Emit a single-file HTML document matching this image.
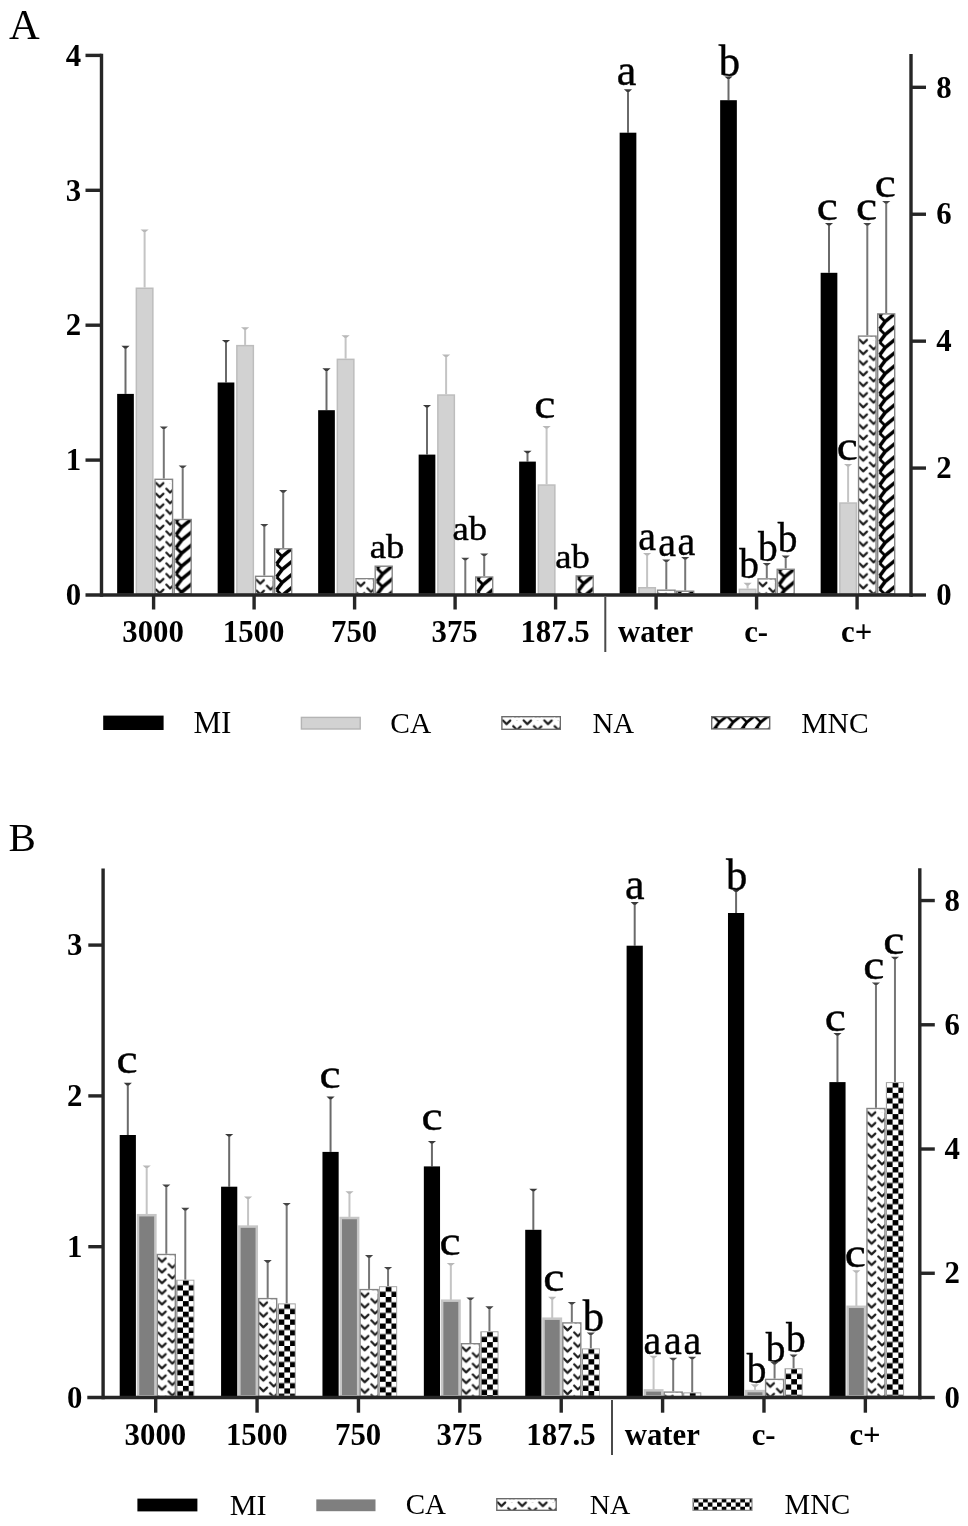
<!DOCTYPE html>
<html lang="en"><head><meta charset="utf-8"><title>Figure</title>
<style>
html,body{margin:0;padding:0;background:#fff;}
body{width:968px;height:1526px;overflow:hidden;}
svg{display:block;filter:blur(0.6px);}
</style></head><body>
<svg width="968" height="1526" viewBox="0 0 968 1526" font-family="'Liberation Serif','Times New Roman',serif" fill="#000">
<defs>
<pattern id="na" width="20.7" height="10.65" patternUnits="userSpaceOnUse">
<rect width="20.7" height="10.65" fill="#fff"/>
<g fill="none" stroke="#1c1c1c" stroke-width="2.2" stroke-linecap="round" stroke-linejoin="round">
<path d="M1.7 4.3l3.7 3.8l3.7 -3.6"/>
<path d="M12.05 -0.45l3.7 3.8l3.7 -3.6"/>
<path d="M12.05 10.2l3.7 3.8l3.7 -3.6"/>
</g>
</pattern>
<pattern id="mncA" width="40" height="13" patternUnits="userSpaceOnUse">
<rect width="40" height="13" fill="#fff"/>
<g fill="none" stroke="#000" stroke-linejoin="round">
<path d="M19.0 -13.5L8.2 -4.6L2.6 2.9M19.0 -0.5L8.2 8.4L2.6 15.9M19.0 12.5L8.2 21.4L2.6 28.9" stroke-width="3.5"/>
<path d="M2.6 -10.1L7.8 -5.0M2.6 2.9L7.8 8.0M2.6 15.9L7.8 21.0M2.6 28.9L7.8 34.0" stroke-width="2.8"/>
</g>
</pattern>
<pattern id="mncAl" width="13" height="13" patternUnits="userSpaceOnUse" patternTransform="translate(0.6 0.2) scale(1.06)">
<rect width="13" height="13" fill="#fff"/>
<g fill="none" stroke="#000" stroke-linejoin="round">
<path d="M5.1 -16.2L-5.7 -7.3L-11.3 0.2M5.1 -3.2L-5.7 5.7L-11.3 13.2M5.1 9.8L-5.7 18.7L-11.3 26.2M18.1 -16.2L7.3 -7.3L1.7 0.2M18.1 -3.2L7.3 5.7L1.7 13.2M18.1 9.8L7.3 18.7L1.7 26.2M31.1 -16.2L20.3 -7.3L14.7 0.2M31.1 -3.2L20.3 5.7L14.7 13.2M31.1 9.8L20.3 18.7L14.7 26.2" stroke-width="2.7"/>
<path d="M-11.3 -12.8L-6.1 -7.7M-11.3 0.2L-6.1 5.3M-11.3 13.2L-6.1 18.3M-11.3 26.2L-6.1 31.3M1.7 -12.8L6.9 -7.7M1.7 0.2L6.9 5.3M1.7 13.2L6.9 18.3M1.7 26.2L6.9 31.3M14.7 -12.8L19.9 -7.7M14.7 0.2L19.9 5.3M14.7 13.2L19.9 18.3M14.7 26.2L19.9 31.3" stroke-width="2.2"/>
</g>
</pattern>
<pattern id="mncB" width="11.5" height="10.6" patternUnits="userSpaceOnUse" patternTransform="translate(1.0 0.2)">
<rect width="11.5" height="10.6" fill="#fff"/>
<rect x="5.75" y="0" width="5.75" height="5.3" fill="#000"/>
<rect x="0" y="5.3" width="5.75" height="5.3" fill="#000"/>
</pattern>
<pattern id="mncBl" width="9.3" height="8.7" patternUnits="userSpaceOnUse" patternTransform="translate(1.5 0)">
<rect width="9.3" height="8.7" fill="#fff"/>
<rect x="0" y="0" width="4.65" height="4.35" fill="#000"/>
<rect x="4.65" y="4.35" width="4.65" height="4.35" fill="#000"/>
</pattern>
</defs>
<rect width="968" height="1526" fill="#fff"/>
<path d="M125.50 346.40V393.90" stroke="#6a6a6a" stroke-width="2.0" fill="none"/>
<path d="M121.40 345.80h8.2l-3.00 2.6h-2.2z" fill="#3a3a3a"/>
<rect x="117.15" y="393.90" width="16.70" height="199.90" fill="#000"/>
<path d="M144.60 230.00V287.50" stroke="#c4c4c4" stroke-width="2.0" fill="none"/>
<path d="M140.50 229.40h8.2l-3.00 2.6h-2.2z" fill="#b8b8b8"/>
<rect x="136.35" y="288.25" width="16.50" height="305.55" fill="#d2d2d2" stroke="#bdbdbd" stroke-width="1.5"/>
<path d="M163.80 427.00V478.60" stroke="#767676" stroke-width="2.0" fill="none"/>
<path d="M159.70 426.40h8.2l-3.00 2.6h-2.2z" fill="#454545"/>
<g transform="translate(154.35 478.60)"><rect x="0.7" y="0.7" width="17.50" height="114.50" fill="url(#na)" stroke="#858585" stroke-width="1.4"/><rect x="10.5" y="1.4" width="7.00" height="3.60" fill="#fff"/></g>
<path d="M182.70 466.00V518.80" stroke="#767676" stroke-width="2.0" fill="none"/>
<path d="M178.60 465.40h8.2l-3.00 2.6h-2.2z" fill="#454545"/>
<g transform="translate(173.50 518.80)"><rect x="0.7" y="0.7" width="17.00" height="74.30" fill="url(#mncA)" stroke="#858585" stroke-width="1.4"/></g>
<path d="M226.00 340.60V382.50" stroke="#6a6a6a" stroke-width="2.0" fill="none"/>
<path d="M221.90 340.00h8.2l-3.00 2.6h-2.2z" fill="#3a3a3a"/>
<rect x="217.65" y="382.50" width="16.70" height="211.30" fill="#000"/>
<path d="M245.10 327.80V344.90" stroke="#c4c4c4" stroke-width="2.0" fill="none"/>
<path d="M241.00 327.20h8.2l-3.00 2.6h-2.2z" fill="#b8b8b8"/>
<rect x="236.85" y="345.65" width="16.50" height="248.15" fill="#d2d2d2" stroke="#bdbdbd" stroke-width="1.5"/>
<path d="M264.30 524.60V575.60" stroke="#767676" stroke-width="2.0" fill="none"/>
<path d="M260.20 524.00h8.2l-3.00 2.6h-2.2z" fill="#454545"/>
<g transform="translate(254.85 575.60)"><rect x="0.7" y="0.7" width="17.50" height="17.50" fill="url(#na)" stroke="#858585" stroke-width="1.4"/><rect x="10.5" y="1.4" width="7.00" height="3.60" fill="#fff"/></g>
<path d="M283.20 490.70V548.10" stroke="#767676" stroke-width="2.0" fill="none"/>
<path d="M279.10 490.10h8.2l-3.00 2.6h-2.2z" fill="#454545"/>
<g transform="translate(274.00 548.10)"><rect x="0.7" y="0.7" width="17.00" height="45.00" fill="url(#mncA)" stroke="#858585" stroke-width="1.4"/></g>
<path d="M326.50 368.90V410.20" stroke="#6a6a6a" stroke-width="2.0" fill="none"/>
<path d="M322.40 368.30h8.2l-3.00 2.6h-2.2z" fill="#3a3a3a"/>
<rect x="318.15" y="410.20" width="16.70" height="183.60" fill="#000"/>
<path d="M345.60 335.80V358.60" stroke="#c4c4c4" stroke-width="2.0" fill="none"/>
<path d="M341.50 335.20h8.2l-3.00 2.6h-2.2z" fill="#b8b8b8"/>
<rect x="337.35" y="359.35" width="16.50" height="234.45" fill="#d2d2d2" stroke="#bdbdbd" stroke-width="1.5"/>
<g transform="translate(355.35 578.00)"><rect x="0.7" y="0.7" width="17.50" height="15.10" fill="url(#na)" stroke="#858585" stroke-width="1.4"/><rect x="10.5" y="1.4" width="7.00" height="3.60" fill="#fff"/></g>
<g transform="translate(374.50 565.50)"><rect x="0.7" y="0.7" width="17.00" height="27.60" fill="url(#mncA)" stroke="#858585" stroke-width="1.4"/></g>
<path d="M427.00 405.50V454.60" stroke="#6a6a6a" stroke-width="2.0" fill="none"/>
<path d="M422.90 404.90h8.2l-3.00 2.6h-2.2z" fill="#3a3a3a"/>
<rect x="418.65" y="454.60" width="16.70" height="139.20" fill="#000"/>
<path d="M446.10 355.00V394.30" stroke="#c4c4c4" stroke-width="2.0" fill="none"/>
<path d="M442.00 354.40h8.2l-3.00 2.6h-2.2z" fill="#b8b8b8"/>
<rect x="437.85" y="395.05" width="16.50" height="198.75" fill="#d2d2d2" stroke="#bdbdbd" stroke-width="1.5"/>
<path d="M465.30 558.30V595.00" stroke="#767676" stroke-width="2.0" fill="none"/>
<path d="M461.20 557.70h8.2l-3.00 2.6h-2.2z" fill="#454545"/>
<path d="M484.20 554.10V576.30" stroke="#767676" stroke-width="2.0" fill="none"/>
<path d="M480.10 553.50h8.2l-3.00 2.6h-2.2z" fill="#454545"/>
<g transform="translate(475.00 576.30)"><rect x="0.7" y="0.7" width="17.00" height="16.80" fill="url(#mncA)" stroke="#858585" stroke-width="1.4"/></g>
<path d="M527.50 451.30V461.60" stroke="#6a6a6a" stroke-width="2.0" fill="none"/>
<path d="M523.40 450.70h8.2l-3.00 2.6h-2.2z" fill="#3a3a3a"/>
<rect x="519.15" y="461.60" width="16.70" height="132.20" fill="#000"/>
<path d="M546.60 426.50V484.30" stroke="#c4c4c4" stroke-width="2.0" fill="none"/>
<path d="M542.50 425.90h8.2l-3.00 2.6h-2.2z" fill="#b8b8b8"/>
<rect x="538.35" y="485.05" width="16.50" height="108.75" fill="#d2d2d2" stroke="#bdbdbd" stroke-width="1.5"/>
<g transform="translate(575.50 575.20)"><rect x="0.7" y="0.7" width="17.00" height="17.90" fill="url(#mncA)" stroke="#858585" stroke-width="1.4"/></g>
<path d="M628.00 89.90V132.70" stroke="#6a6a6a" stroke-width="2.0" fill="none"/>
<path d="M623.90 89.30h8.2l-3.00 2.6h-2.2z" fill="#3a3a3a"/>
<rect x="619.65" y="132.70" width="16.70" height="461.10" fill="#000"/>
<path d="M647.10 553.50V587.00" stroke="#c4c4c4" stroke-width="2.0" fill="none"/>
<path d="M643.00 552.90h8.2l-3.00 2.6h-2.2z" fill="#b8b8b8"/>
<rect x="638.85" y="587.75" width="16.50" height="6.05" fill="#d2d2d2" stroke="#bdbdbd" stroke-width="1.5"/>
<path d="M666.30 560.00V589.50" stroke="#767676" stroke-width="2.0" fill="none"/>
<path d="M662.20 559.40h8.2l-3.00 2.6h-2.2z" fill="#454545"/>
<g transform="translate(656.85 589.50)"><rect x="0.7" y="0.7" width="17.50" height="3.60" fill="url(#na)" stroke="#858585" stroke-width="1.4"/><rect x="10.5" y="1.4" width="7.00" height="2.90" fill="#fff"/></g>
<path d="M685.20 557.50V590.50" stroke="#767676" stroke-width="2.0" fill="none"/>
<path d="M681.10 556.90h8.2l-3.00 2.6h-2.2z" fill="#454545"/>
<g transform="translate(676.00 590.50)"><rect x="0.7" y="0.7" width="17.00" height="2.60" fill="url(#mncA)" stroke="#858585" stroke-width="1.4"/></g>
<path d="M728.50 77.00V100.20" stroke="#6a6a6a" stroke-width="2.0" fill="none"/>
<path d="M724.40 76.40h8.2l-3.00 2.6h-2.2z" fill="#3a3a3a"/>
<rect x="720.15" y="100.20" width="16.70" height="493.60" fill="#000"/>
<path d="M747.60 583.40V588.60" stroke="#c4c4c4" stroke-width="2.0" fill="none"/>
<path d="M743.50 582.80h8.2l-3.00 2.6h-2.2z" fill="#b8b8b8"/>
<rect x="739.35" y="589.35" width="16.50" height="4.45" fill="#d2d2d2" stroke="#bdbdbd" stroke-width="1.5"/>
<path d="M766.80 563.60V578.20" stroke="#767676" stroke-width="2.0" fill="none"/>
<path d="M762.70 563.00h8.2l-3.00 2.6h-2.2z" fill="#454545"/>
<g transform="translate(757.35 578.20)"><rect x="0.7" y="0.7" width="17.50" height="14.90" fill="url(#na)" stroke="#858585" stroke-width="1.4"/><rect x="10.5" y="1.4" width="7.00" height="3.60" fill="#fff"/></g>
<path d="M785.70 556.10V568.60" stroke="#767676" stroke-width="2.0" fill="none"/>
<path d="M781.60 555.50h8.2l-3.00 2.6h-2.2z" fill="#454545"/>
<g transform="translate(776.50 568.60)"><rect x="0.7" y="0.7" width="17.00" height="24.50" fill="url(#mncA)" stroke="#858585" stroke-width="1.4"/></g>
<path d="M829.00 223.60V272.80" stroke="#6a6a6a" stroke-width="2.0" fill="none"/>
<path d="M824.90 223.00h8.2l-3.00 2.6h-2.2z" fill="#3a3a3a"/>
<rect x="820.65" y="272.80" width="16.70" height="321.00" fill="#000"/>
<path d="M848.10 464.50V502.30" stroke="#c4c4c4" stroke-width="2.0" fill="none"/>
<path d="M844.00 463.90h8.2l-3.00 2.6h-2.2z" fill="#b8b8b8"/>
<rect x="839.85" y="503.05" width="16.50" height="90.75" fill="#d2d2d2" stroke="#bdbdbd" stroke-width="1.5"/>
<path d="M867.30 223.60V335.40" stroke="#767676" stroke-width="2.0" fill="none"/>
<path d="M863.20 223.00h8.2l-3.00 2.6h-2.2z" fill="#454545"/>
<g transform="translate(857.85 335.40)"><rect x="0.7" y="0.7" width="17.50" height="257.70" fill="url(#na)" stroke="#858585" stroke-width="1.4"/><rect x="10.5" y="1.4" width="7.00" height="3.60" fill="#fff"/></g>
<path d="M886.20 201.50V313.20" stroke="#767676" stroke-width="2.0" fill="none"/>
<path d="M882.10 200.90h8.2l-3.00 2.6h-2.2z" fill="#454545"/>
<g transform="translate(877.00 313.20)"><rect x="0.7" y="0.7" width="17.00" height="279.90" fill="url(#mncA)" stroke="#858585" stroke-width="1.4"/></g>
<g stroke="#262626" stroke-width="3.4" fill="none" stroke-linecap="butt">
<path d="M101.5 53.7V596.7"/>
<path d="M85.5 595.0H912.7"/>
<path d="M911.0 54V596.7"/>
<path d="M85.5 460.10H101.5"/>
<path d="M85.5 325.20H101.5"/>
<path d="M85.5 190.30H101.5"/>
<path d="M85.5 55.40H101.5"/>
<path d="M911.0 595.00H926"/>
<path d="M911.0 468.08H926"/>
<path d="M911.0 341.16H926"/>
<path d="M911.0 214.24H926"/>
<path d="M911.0 87.32H926"/>
<path d="M153.60 595.0V609.5"/>
<path d="M254.10 595.0V609.5"/>
<path d="M354.60 595.0V609.5"/>
<path d="M455.10 595.0V609.5"/>
<path d="M555.60 595.0V609.5"/>
<path d="M656.10 595.0V609.5"/>
<path d="M756.60 595.0V609.5"/>
<path d="M857.10 595.0V609.5"/>
</g>
<path d="M605.3 597V652" stroke="#4a4a4a" stroke-width="2" fill="none"/>
<text x="81.20" y="605.20" font-size="30.80" text-anchor="end" font-weight="bold">0</text>
<text x="81.20" y="470.30" font-size="30.80" text-anchor="end" font-weight="bold">1</text>
<text x="81.20" y="335.40" font-size="30.80" text-anchor="end" font-weight="bold">2</text>
<text x="81.20" y="200.50" font-size="30.80" text-anchor="end" font-weight="bold">3</text>
<text x="81.20" y="65.60" font-size="30.80" text-anchor="end" font-weight="bold">4</text>
<text x="936.30" y="605.20" font-size="30.80" text-anchor="start" font-weight="bold">0</text>
<text x="936.30" y="478.28" font-size="30.80" text-anchor="start" font-weight="bold">2</text>
<text x="936.30" y="351.36" font-size="30.80" text-anchor="start" font-weight="bold">4</text>
<text x="936.30" y="224.44" font-size="30.80" text-anchor="start" font-weight="bold">6</text>
<text x="936.30" y="97.52" font-size="30.80" text-anchor="start" font-weight="bold">8</text>
<text x="153.10" y="642.30" font-size="30.80" text-anchor="middle" font-weight="bold">3000</text>
<text x="253.60" y="642.30" font-size="30.80" text-anchor="middle" font-weight="bold">1500</text>
<text x="354.10" y="642.30" font-size="30.80" text-anchor="middle" font-weight="bold">750</text>
<text x="454.60" y="642.30" font-size="30.80" text-anchor="middle" font-weight="bold">375</text>
<text x="555.10" y="642.30" font-size="30.80" text-anchor="middle" font-weight="bold">187.5</text>
<text x="655.60" y="642.30" font-size="30.80" text-anchor="middle" font-weight="bold">water</text>
<text x="756.10" y="642.30" font-size="30.80" text-anchor="middle" font-weight="bold">c-</text>
<text x="856.60" y="642.30" font-size="30.80" text-anchor="middle" font-weight="bold">c+</text>
<text x="8.94" y="39.38" font-size="42.50">A</text>
<text transform="translate(534.32 418.11) scale(1.130 1)" font-size="42.00" stroke="#000" stroke-width="0.4">c</text>
<text transform="translate(369.69 557.50) scale(1.110 1)" font-size="33.00" stroke="#000" stroke-width="0.4">ab</text>
<text transform="translate(452.44 539.85) scale(1.110 1)" font-size="33.00" stroke="#000" stroke-width="0.4">ab</text>
<text transform="translate(555.19 567.65) scale(1.110 1)" font-size="33.00" stroke="#000" stroke-width="0.4">ab</text>
<text transform="translate(616.66 85.39) scale(0.990 1)" font-size="44.50" stroke="#000" stroke-width="0.4">a</text>
<text transform="translate(718.78 75.77) scale(0.970 1)" font-size="44.00" stroke="#000" stroke-width="0.4">b</text>
<text transform="translate(638.16 550.48) scale(0.970 1)" font-size="41.20" stroke="#000" stroke-width="0.4">a</text>
<text transform="translate(658.26 555.73) scale(0.970 1)" font-size="41.20" stroke="#000" stroke-width="0.4">a</text>
<text transform="translate(677.46 555.43) scale(0.970 1)" font-size="41.20" stroke="#000" stroke-width="0.4">a</text>
<text transform="translate(739.18 578.31) scale(0.950 1)" font-size="41.50" stroke="#000" stroke-width="0.4">b</text>
<text transform="translate(757.93 560.81) scale(0.950 1)" font-size="41.50" stroke="#000" stroke-width="0.4">b</text>
<text transform="translate(777.83 552.16) scale(0.950 1)" font-size="41.50" stroke="#000" stroke-width="0.4">b</text>
<text transform="translate(816.87 220.26) scale(1.130 1)" font-size="42.00" stroke="#000" stroke-width="0.4">c</text>
<text transform="translate(855.97 220.26) scale(1.130 1)" font-size="42.00" stroke="#000" stroke-width="0.4">c</text>
<text transform="translate(874.77 197.11) scale(1.130 1)" font-size="42.00" stroke="#000" stroke-width="0.4">c</text>
<text transform="translate(836.72 460.46) scale(1.130 1)" font-size="42.00" stroke="#000" stroke-width="0.4">c</text>
<rect x="103.2" y="715.6" width="60.4" height="14.4" fill="#000"/>
<rect x="301.4" y="717.4" width="58.8" height="11.6" fill="#d2d2d2" stroke="#b4b4b4" stroke-width="1.4"/>
<g transform="translate(501.2 716)"><rect x="0.7" y="0.7" width="58.4" height="12.6" fill="url(#na)" stroke="#6a6a6a" stroke-width="1.4"/><rect x="11.3" y="1.4" width="9.0" height="3.2" fill="#fff"/><rect x="32.0" y="1.4" width="9.0" height="3.2" fill="#fff"/><rect x="52.7" y="1.4" width="5.9" height="3.2" fill="#fff"/></g>
<g transform="translate(711 716)"><rect x="0.7" y="0.7" width="58" height="12.2" fill="url(#mncAl)" stroke="#6a6a6a" stroke-width="1.4"/></g>
<text x="193.38" y="733.35" font-size="31.14">MI</text>
<text x="390.34" y="732.86" font-size="29.47">CA</text>
<text x="592.41" y="732.82" font-size="28.86">NA</text>
<text x="801.35" y="733.13" font-size="29.52">MNC</text>
<path d="M127.80 1083.40V1135.00" stroke="#6a6a6a" stroke-width="2.0" fill="none"/>
<path d="M123.70 1082.80h8.2l-3.00 2.6h-2.2z" fill="#3a3a3a"/>
<rect x="119.70" y="1135.00" width="16.20" height="261.30" fill="#000"/>
<path d="M146.70 1166.00V1215.20" stroke="#c4c4c4" stroke-width="2.0" fill="none"/>
<path d="M142.60 1165.40h8.2l-3.00 2.6h-2.2z" fill="#b8b8b8"/>
<rect x="138.00" y="1215.20" width="17.40" height="181.10" fill="#7f7f7f" stroke="#c6c6c6" stroke-width="2.5"/>
<path d="M166.30 1185.00V1253.80" stroke="#767676" stroke-width="2.0" fill="none"/>
<path d="M162.20 1184.40h8.2l-3.00 2.6h-2.2z" fill="#454545"/>
<g transform="translate(156.60 1253.80)"><rect x="0.7" y="0.7" width="18.00" height="141.80" fill="url(#na)" stroke="#858585" stroke-width="1.4"/><rect x="10.5" y="1.4" width="7.50" height="3.60" fill="#fff"/></g>
<path d="M185.30 1208.40V1279.70" stroke="#767676" stroke-width="2.0" fill="none"/>
<path d="M181.20 1207.80h8.2l-3.00 2.6h-2.2z" fill="#454545"/>
<g transform="translate(176.20 1279.70)"><rect x="0.5" y="0.5" width="17.20" height="116.10" fill="url(#mncB)" stroke="#a8a8a8" stroke-width="1.0"/></g>
<path d="M229.18 1134.60V1186.70" stroke="#6a6a6a" stroke-width="2.0" fill="none"/>
<path d="M225.08 1134.00h8.2l-3.00 2.6h-2.2z" fill="#3a3a3a"/>
<rect x="221.08" y="1186.70" width="16.20" height="209.60" fill="#000"/>
<path d="M248.08 1197.00V1226.60" stroke="#c4c4c4" stroke-width="2.0" fill="none"/>
<path d="M243.98 1196.40h8.2l-3.00 2.6h-2.2z" fill="#b8b8b8"/>
<rect x="239.38" y="1226.60" width="17.40" height="169.70" fill="#7f7f7f" stroke="#c6c6c6" stroke-width="2.5"/>
<path d="M267.68 1260.70V1297.90" stroke="#767676" stroke-width="2.0" fill="none"/>
<path d="M263.58 1260.10h8.2l-3.00 2.6h-2.2z" fill="#454545"/>
<g transform="translate(257.98 1297.90)"><rect x="0.7" y="0.7" width="18.00" height="97.70" fill="url(#na)" stroke="#858585" stroke-width="1.4"/><rect x="10.5" y="1.4" width="7.50" height="3.60" fill="#fff"/></g>
<path d="M286.68 1203.60V1303.40" stroke="#767676" stroke-width="2.0" fill="none"/>
<path d="M282.58 1203.00h8.2l-3.00 2.6h-2.2z" fill="#454545"/>
<g transform="translate(277.58 1303.40)"><rect x="0.5" y="0.5" width="17.20" height="92.40" fill="url(#mncB)" stroke="#a8a8a8" stroke-width="1.0"/></g>
<path d="M330.56 1097.20V1151.90" stroke="#6a6a6a" stroke-width="2.0" fill="none"/>
<path d="M326.46 1096.60h8.2l-3.00 2.6h-2.2z" fill="#3a3a3a"/>
<rect x="322.46" y="1151.90" width="16.20" height="244.40" fill="#000"/>
<path d="M349.46 1191.80V1218.00" stroke="#c4c4c4" stroke-width="2.0" fill="none"/>
<path d="M345.36 1191.20h8.2l-3.00 2.6h-2.2z" fill="#b8b8b8"/>
<rect x="340.76" y="1218.00" width="17.40" height="178.30" fill="#7f7f7f" stroke="#c6c6c6" stroke-width="2.5"/>
<path d="M369.06 1255.70V1288.90" stroke="#767676" stroke-width="2.0" fill="none"/>
<path d="M364.96 1255.10h8.2l-3.00 2.6h-2.2z" fill="#454545"/>
<g transform="translate(359.36 1288.90)"><rect x="0.7" y="0.7" width="18.00" height="106.70" fill="url(#na)" stroke="#858585" stroke-width="1.4"/><rect x="10.5" y="1.4" width="7.50" height="3.60" fill="#fff"/></g>
<path d="M388.06 1267.60V1286.20" stroke="#767676" stroke-width="2.0" fill="none"/>
<path d="M383.96 1267.00h8.2l-3.00 2.6h-2.2z" fill="#454545"/>
<g transform="translate(378.96 1286.20)"><rect x="0.5" y="0.5" width="17.20" height="109.60" fill="url(#mncB)" stroke="#a8a8a8" stroke-width="1.0"/></g>
<path d="M431.94 1141.60V1166.40" stroke="#6a6a6a" stroke-width="2.0" fill="none"/>
<path d="M427.84 1141.00h8.2l-3.00 2.6h-2.2z" fill="#3a3a3a"/>
<rect x="423.84" y="1166.40" width="16.20" height="229.90" fill="#000"/>
<path d="M450.84 1263.50V1300.70" stroke="#c4c4c4" stroke-width="2.0" fill="none"/>
<path d="M446.74 1262.90h8.2l-3.00 2.6h-2.2z" fill="#b8b8b8"/>
<rect x="442.14" y="1300.70" width="17.40" height="95.60" fill="#7f7f7f" stroke="#c6c6c6" stroke-width="2.5"/>
<path d="M470.44 1298.00V1343.00" stroke="#767676" stroke-width="2.0" fill="none"/>
<path d="M466.34 1297.40h8.2l-3.00 2.6h-2.2z" fill="#454545"/>
<g transform="translate(460.74 1343.00)"><rect x="0.7" y="0.7" width="18.00" height="52.60" fill="url(#na)" stroke="#858585" stroke-width="1.4"/><rect x="10.5" y="1.4" width="7.50" height="3.60" fill="#fff"/></g>
<path d="M489.44 1306.90V1331.30" stroke="#767676" stroke-width="2.0" fill="none"/>
<path d="M485.34 1306.30h8.2l-3.00 2.6h-2.2z" fill="#454545"/>
<g transform="translate(480.34 1331.30)"><rect x="0.5" y="0.5" width="17.20" height="64.50" fill="url(#mncB)" stroke="#a8a8a8" stroke-width="1.0"/></g>
<path d="M533.32 1189.30V1229.80" stroke="#6a6a6a" stroke-width="2.0" fill="none"/>
<path d="M529.22 1188.70h8.2l-3.00 2.6h-2.2z" fill="#3a3a3a"/>
<rect x="525.22" y="1229.80" width="16.20" height="166.50" fill="#000"/>
<path d="M552.22 1297.40V1318.70" stroke="#c4c4c4" stroke-width="2.0" fill="none"/>
<path d="M548.12 1296.80h8.2l-3.00 2.6h-2.2z" fill="#b8b8b8"/>
<rect x="543.52" y="1318.70" width="17.40" height="77.60" fill="#7f7f7f" stroke="#c6c6c6" stroke-width="2.5"/>
<path d="M571.82 1302.60V1322.20" stroke="#767676" stroke-width="2.0" fill="none"/>
<path d="M567.72 1302.00h8.2l-3.00 2.6h-2.2z" fill="#454545"/>
<g transform="translate(562.12 1322.20)"><rect x="0.7" y="0.7" width="18.00" height="73.40" fill="url(#na)" stroke="#858585" stroke-width="1.4"/><rect x="10.5" y="1.4" width="7.50" height="3.60" fill="#fff"/></g>
<path d="M590.82 1333.00V1348.40" stroke="#767676" stroke-width="2.0" fill="none"/>
<path d="M586.72 1332.40h8.2l-3.00 2.6h-2.2z" fill="#454545"/>
<g transform="translate(581.72 1348.40)"><rect x="0.5" y="0.5" width="17.20" height="47.40" fill="url(#mncB)" stroke="#a8a8a8" stroke-width="1.0"/></g>
<path d="M634.70 902.70V945.70" stroke="#6a6a6a" stroke-width="2.0" fill="none"/>
<path d="M630.60 902.10h8.2l-3.00 2.6h-2.2z" fill="#3a3a3a"/>
<rect x="626.60" y="945.70" width="16.20" height="450.60" fill="#000"/>
<path d="M653.60 1356.30V1390.40" stroke="#c4c4c4" stroke-width="2.0" fill="none"/>
<path d="M649.50 1355.70h8.2l-3.00 2.6h-2.2z" fill="#b8b8b8"/>
<rect x="644.90" y="1390.40" width="17.40" height="5.90" fill="#7f7f7f" stroke="#c6c6c6" stroke-width="2.5"/>
<path d="M673.20 1358.30V1391.40" stroke="#767676" stroke-width="2.0" fill="none"/>
<path d="M669.10 1357.70h8.2l-3.00 2.6h-2.2z" fill="#454545"/>
<g transform="translate(663.50 1391.40)"><rect x="0.7" y="0.7" width="18.00" height="4.20" fill="url(#na)" stroke="#858585" stroke-width="1.4"/><rect x="10.5" y="1.4" width="7.50" height="3.50" fill="#fff"/></g>
<path d="M692.20 1357.30V1392.40" stroke="#767676" stroke-width="2.0" fill="none"/>
<path d="M688.10 1356.70h8.2l-3.00 2.6h-2.2z" fill="#454545"/>
<g transform="translate(683.10 1392.40)"><rect x="0.5" y="0.5" width="17.20" height="3.40" fill="url(#mncB)" stroke="#a8a8a8" stroke-width="1.0"/></g>
<path d="M736.08 890.00V913.00" stroke="#6a6a6a" stroke-width="2.0" fill="none"/>
<path d="M731.98 889.40h8.2l-3.00 2.6h-2.2z" fill="#3a3a3a"/>
<rect x="727.98" y="913.00" width="16.20" height="483.30" fill="#000"/>
<path d="M754.98 1384.90V1391.10" stroke="#c4c4c4" stroke-width="2.0" fill="none"/>
<path d="M750.88 1384.30h8.2l-3.00 2.6h-2.2z" fill="#b8b8b8"/>
<rect x="746.28" y="1391.10" width="17.40" height="5.20" fill="#7f7f7f" stroke="#c6c6c6" stroke-width="2.5"/>
<path d="M774.58 1362.60V1378.70" stroke="#767676" stroke-width="2.0" fill="none"/>
<path d="M770.48 1362.00h8.2l-3.00 2.6h-2.2z" fill="#454545"/>
<g transform="translate(764.88 1378.70)"><rect x="0.7" y="0.7" width="18.00" height="16.90" fill="url(#na)" stroke="#858585" stroke-width="1.4"/><rect x="10.5" y="1.4" width="7.50" height="3.60" fill="#fff"/></g>
<path d="M793.58 1355.00V1368.30" stroke="#767676" stroke-width="2.0" fill="none"/>
<path d="M789.48 1354.40h8.2l-3.00 2.6h-2.2z" fill="#454545"/>
<g transform="translate(784.48 1368.30)"><rect x="0.5" y="0.5" width="17.20" height="27.50" fill="url(#mncB)" stroke="#a8a8a8" stroke-width="1.0"/></g>
<path d="M837.46 1033.50V1082.10" stroke="#6a6a6a" stroke-width="2.0" fill="none"/>
<path d="M833.36 1032.90h8.2l-3.00 2.6h-2.2z" fill="#3a3a3a"/>
<rect x="829.36" y="1082.10" width="16.20" height="314.20" fill="#000"/>
<path d="M856.36 1270.80V1306.80" stroke="#c4c4c4" stroke-width="2.0" fill="none"/>
<path d="M852.26 1270.20h8.2l-3.00 2.6h-2.2z" fill="#b8b8b8"/>
<rect x="847.66" y="1306.80" width="17.40" height="89.50" fill="#7f7f7f" stroke="#c6c6c6" stroke-width="2.5"/>
<path d="M875.96 983.00V1107.80" stroke="#767676" stroke-width="2.0" fill="none"/>
<path d="M871.86 982.40h8.2l-3.00 2.6h-2.2z" fill="#454545"/>
<g transform="translate(866.26 1107.80)"><rect x="0.7" y="0.7" width="18.00" height="287.80" fill="url(#na)" stroke="#858585" stroke-width="1.4"/><rect x="10.5" y="1.4" width="7.50" height="3.60" fill="#fff"/></g>
<path d="M894.96 957.30V1082.10" stroke="#767676" stroke-width="2.0" fill="none"/>
<path d="M890.86 956.70h8.2l-3.00 2.6h-2.2z" fill="#454545"/>
<g transform="translate(885.86 1082.10)"><rect x="0.5" y="0.5" width="17.20" height="313.70" fill="url(#mncB)" stroke="#a8a8a8" stroke-width="1.0"/></g>
<g stroke="#262626" stroke-width="3.4" fill="none">
<path d="M103.1 868.5V1399.2"/>
<path d="M87.3 1397.5H921.5"/>
<path d="M919.8 868.3V1399.2"/>
<path d="M88.3 1246.70H103.1"/>
<path d="M88.3 1095.90H103.1"/>
<path d="M88.3 945.10H103.1"/>
<path d="M919.8 1397.50H934.8"/>
<path d="M919.8 1273.26H934.8"/>
<path d="M919.8 1149.02H934.8"/>
<path d="M919.8 1024.78H934.8"/>
<path d="M919.8 900.54H934.8"/>
<path d="M155.70 1397.5V1412.7"/>
<path d="M257.08 1397.5V1412.7"/>
<path d="M358.46 1397.5V1412.7"/>
<path d="M459.84 1397.5V1412.7"/>
<path d="M561.22 1397.5V1412.7"/>
<path d="M662.60 1397.5V1412.7"/>
<path d="M763.98 1397.5V1412.7"/>
<path d="M865.36 1397.5V1412.7"/>
</g>
<path d="M612 1400V1455" stroke="#4a4a4a" stroke-width="2" fill="none"/>
<text x="82.30" y="1407.70" font-size="30.80" text-anchor="end" font-weight="bold">0</text>
<text x="82.30" y="1256.90" font-size="30.80" text-anchor="end" font-weight="bold">1</text>
<text x="82.30" y="1106.10" font-size="30.80" text-anchor="end" font-weight="bold">2</text>
<text x="82.30" y="955.30" font-size="30.80" text-anchor="end" font-weight="bold">3</text>
<text x="944.60" y="1407.70" font-size="30.80" text-anchor="start" font-weight="bold">0</text>
<text x="944.60" y="1283.46" font-size="30.80" text-anchor="start" font-weight="bold">2</text>
<text x="944.60" y="1159.22" font-size="30.80" text-anchor="start" font-weight="bold">4</text>
<text x="944.60" y="1034.98" font-size="30.80" text-anchor="start" font-weight="bold">6</text>
<text x="944.60" y="910.74" font-size="30.80" text-anchor="start" font-weight="bold">8</text>
<text x="155.40" y="1444.80" font-size="30.80" text-anchor="middle" font-weight="bold">3000</text>
<text x="256.78" y="1444.80" font-size="30.80" text-anchor="middle" font-weight="bold">1500</text>
<text x="358.16" y="1444.80" font-size="30.80" text-anchor="middle" font-weight="bold">750</text>
<text x="459.54" y="1444.80" font-size="30.80" text-anchor="middle" font-weight="bold">375</text>
<text x="560.92" y="1444.80" font-size="30.80" text-anchor="middle" font-weight="bold">187.5</text>
<text x="662.30" y="1444.80" font-size="30.80" text-anchor="middle" font-weight="bold">water</text>
<text x="763.68" y="1444.80" font-size="30.80" text-anchor="middle" font-weight="bold">c-</text>
<text x="865.06" y="1444.80" font-size="30.80" text-anchor="middle" font-weight="bold">c+</text>
<text x="8.52" y="850.99" font-size="41.04">B</text>
<text transform="translate(116.42 1072.96) scale(1.130 1)" font-size="42.00" stroke="#000" stroke-width="0.4">c</text>
<text transform="translate(319.62 1088.26) scale(1.130 1)" font-size="42.00" stroke="#000" stroke-width="0.4">c</text>
<text transform="translate(421.42 1129.56) scale(1.130 1)" font-size="42.00" stroke="#000" stroke-width="0.4">c</text>
<text transform="translate(439.47 1254.56) scale(1.130 1)" font-size="42.00" stroke="#000" stroke-width="0.4">c</text>
<text transform="translate(543.17 1291.06) scale(1.130 1)" font-size="42.00" stroke="#000" stroke-width="0.4">c</text>
<text transform="translate(582.73 1331.07) scale(0.970 1)" font-size="44.00" stroke="#000" stroke-width="0.4">b</text>
<text transform="translate(624.96 899.09) scale(0.990 1)" font-size="44.50" stroke="#000" stroke-width="0.4">a</text>
<text transform="translate(726.03 889.87) scale(0.970 1)" font-size="44.00" stroke="#000" stroke-width="0.4">b</text>
<text transform="translate(643.46 1354.08) scale(0.970 1)" font-size="41.20" stroke="#000" stroke-width="0.4">a</text>
<text transform="translate(663.91 1354.08) scale(0.970 1)" font-size="41.20" stroke="#000" stroke-width="0.4">a</text>
<text transform="translate(683.51 1354.08) scale(0.970 1)" font-size="41.20" stroke="#000" stroke-width="0.4">a</text>
<text transform="translate(746.68 1382.96) scale(0.950 1)" font-size="41.50" stroke="#000" stroke-width="0.4">b</text>
<text transform="translate(765.63 1362.26) scale(0.950 1)" font-size="41.50" stroke="#000" stroke-width="0.4">b</text>
<text transform="translate(786.08 1352.01) scale(0.950 1)" font-size="41.50" stroke="#000" stroke-width="0.4">b</text>
<text transform="translate(824.82 1030.76) scale(1.130 1)" font-size="42.00" stroke="#000" stroke-width="0.4">c</text>
<text transform="translate(863.27 978.96) scale(1.130 1)" font-size="42.00" stroke="#000" stroke-width="0.4">c</text>
<text transform="translate(883.27 953.96) scale(1.130 1)" font-size="42.00" stroke="#000" stroke-width="0.4">c</text>
<text transform="translate(844.77 1266.86) scale(1.130 1)" font-size="42.00" stroke="#000" stroke-width="0.4">c</text>
<rect x="137.4" y="1498.6" width="60" height="12.8" fill="#000"/>
<rect x="316.3" y="1499.4" width="59.2" height="11.8" fill="#7f7f7f"/>
<g transform="translate(496.1 1498)"><rect x="0.7" y="0.7" width="59.4" height="11.6" fill="url(#na)" stroke="#6a6a6a" stroke-width="1.4"/><rect x="11.3" y="1.4" width="9.0" height="3.2" fill="#fff"/><rect x="32.0" y="1.4" width="9.0" height="3.2" fill="#fff"/><rect x="52.7" y="1.4" width="5.9" height="3.2" fill="#fff"/></g>
<g transform="translate(692.3 1498)"><rect x="0.7" y="0.7" width="59" height="11.6" fill="url(#mncBl)" stroke="#8a8a8a" stroke-width="1.2"/></g>
<text x="229.81" y="1514.66" font-size="30.11">MI</text>
<text x="405.76" y="1514.22" font-size="29.02">CA</text>
<text x="589.67" y="1514.07" font-size="28.10">NA</text>
<text x="784.61" y="1514.18" font-size="28.76">MNC</text>
</svg>
</body></html>
